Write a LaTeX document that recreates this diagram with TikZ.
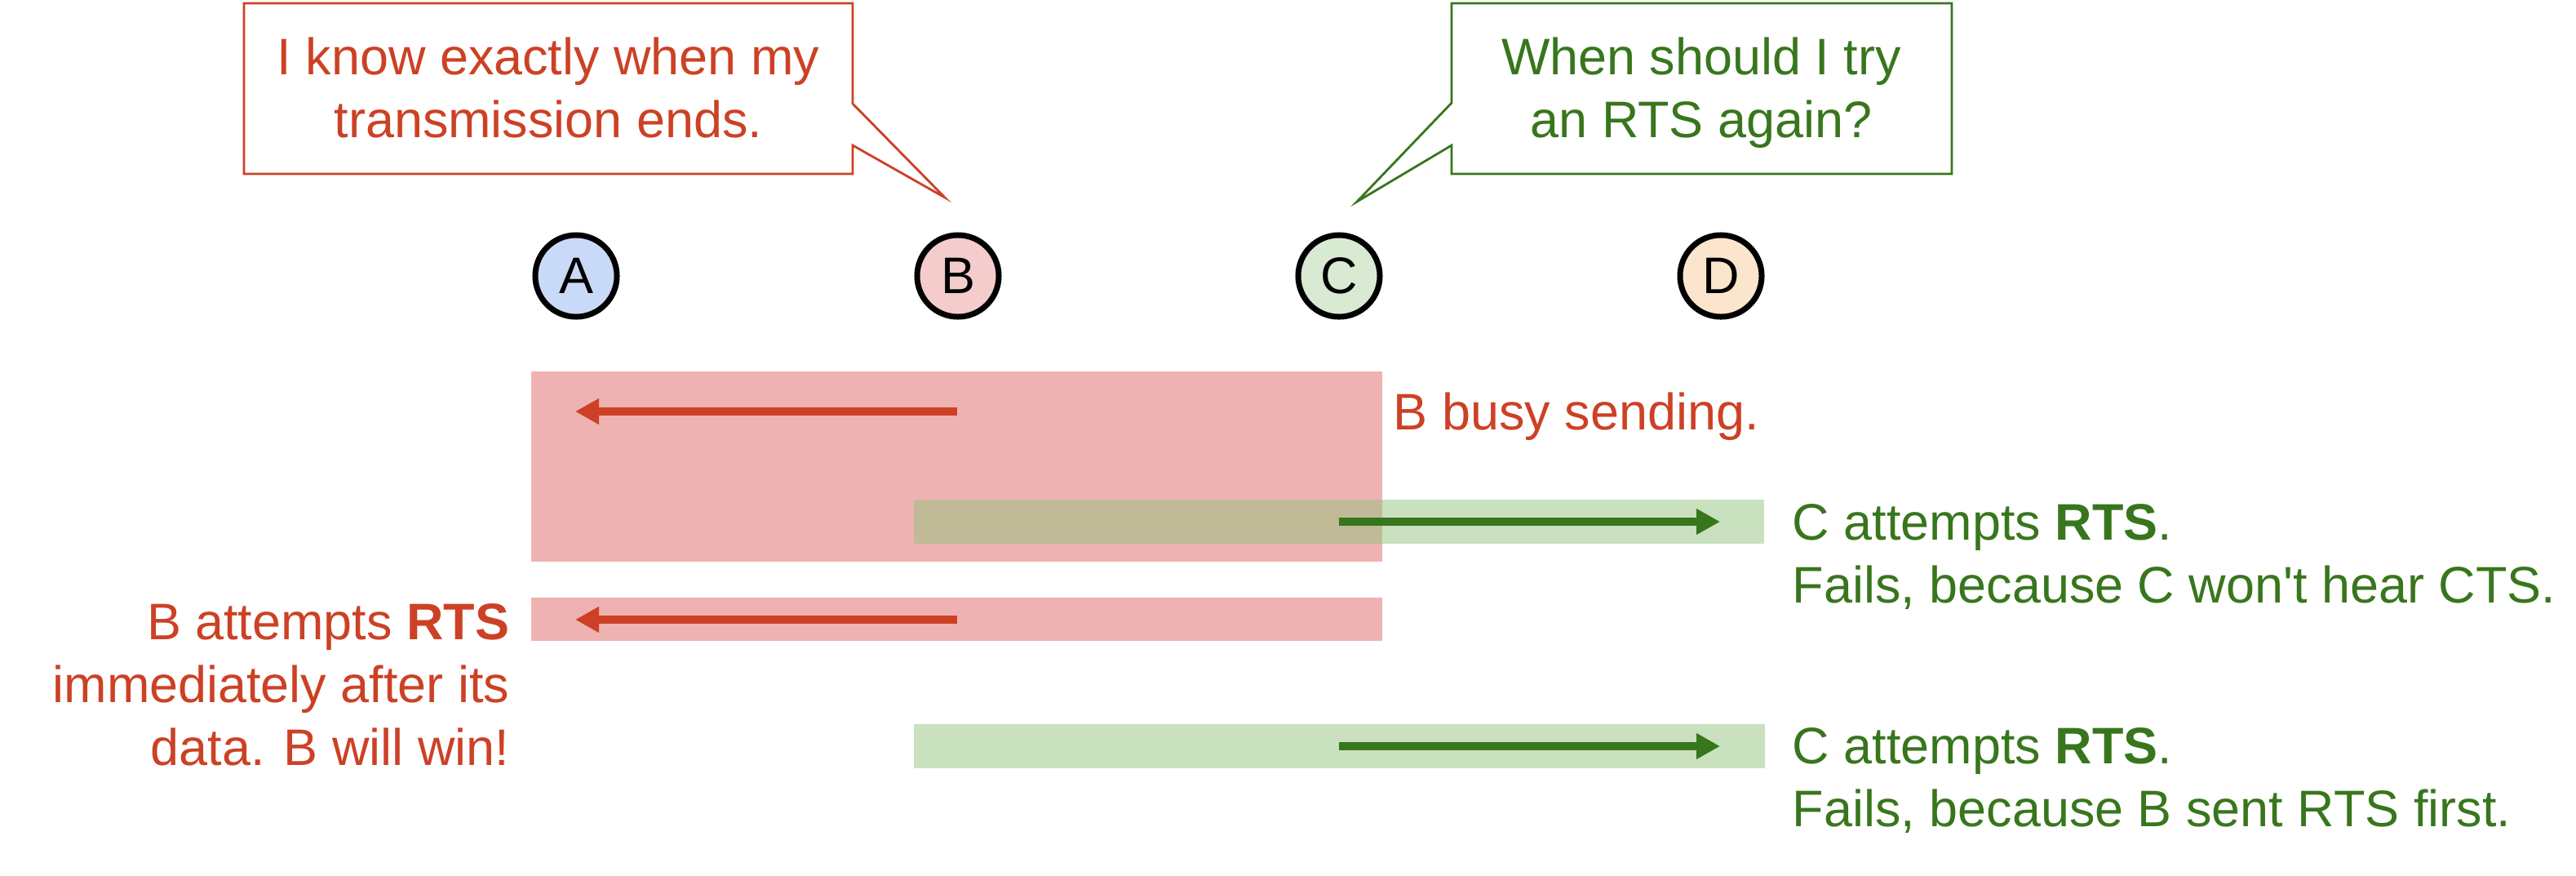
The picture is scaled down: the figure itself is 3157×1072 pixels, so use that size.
\documentclass[tikz,border=0pt]{standalone}
\usepackage{fontspec}
\setmainfont{Liberation Sans}[Ligatures=TeXOff]
\usetikzlibrary{arrows.meta}
\definecolor{tred}{HTML}{CC4125}
\definecolor{tgreen}{HTML}{38761D}
\definecolor{fred}{HTML}{E06666}
\definecolor{fgreen}{HTML}{93C47D}
\definecolor{cA}{HTML}{C9DAF8}
\definecolor{cB}{HTML}{F4CCCC}
\definecolor{cC}{HTML}{D9EAD3}
\definecolor{cD}{HTML}{FCE5CD}
\tikzset{
  txt/.style={inner sep=0pt, font=\fontsize{17.9}{21.9}\selectfont},
  station/.style={circle, draw=black, line width=0.07cm, minimum size=1cm, inner sep=0pt, font=\fontsize{17.9}{21.9}\selectfont},
  redbar/.style={fill=fred, fill opacity=0.5, draw=none},
  greenbar/.style={fill=fgreen, fill opacity=0.5, draw=none},
  redarrow/.style={draw=tred, line width=0.1cm, -{Triangle[length=0.29cm,width=0.30cm]}},
  greenarrow/.style={draw=tgreen, line width=0.1cm, -{Triangle[length=0.29cm,width=0.30cm]}},
  callout/.style={line width=0.028cm, line join=miter},
}
\begin{document}
\begin{tikzpicture}[x=0.01cm,y=-0.01cm]
\useasboundingbox (0,0) rectangle (3157,1072);

% callouts
\draw[callout, draw=tred] (299,4) -- (1045,4) -- (1045,127) -- (1158,242) -- (1045,178) -- (1045,213) -- (299,213) -- cycle;
\node[txt, text=tred, anchor=north, align=center] (say1) at (672,37.1) {\strut I know exactly when my\\transmission ends.};
\draw[callout, draw=tgreen] (1779,4) -- (2392,4) -- (2392,213) -- (1779,213) -- (1779,178) -- (1663,247) -- (1779,126) -- cycle;
\node[txt, text=tgreen, anchor=north, align=center] (say2) at (2085,37.1) {\strut When should I try\\an RTS again?};

% stations
\node[station, fill=cA] (A) at (706,338) {A};
\node[station, fill=cB] (B) at (1174,338) {B};
\node[station, fill=cC] (C) at (1641,338) {C};
\node[station, fill=cD] (D) at (2109,338) {D};

% bars
\fill[redbar] (651,455) rectangle (1694,688);
\fill[greenbar] (1120,612) rectangle (2162,666);
\fill[redbar] (651,732) rectangle (1694,785);
\fill[greenbar] (1120,887) rectangle (2163,941);

% arrows
\coordinate (r1s) at (1173,504);
\coordinate (r1e) at (705,504);
\coordinate (g1s) at (1641,639);
\coordinate (g1e) at (2108,639);
\coordinate (r2s) at (1173,759);
\coordinate (r2e) at (705,759);
\coordinate (g2s) at (1641,914);
\coordinate (g2e) at (2108,914);
\draw[redarrow] (r1s) -- (r1e);
\draw[greenarrow] (g1s) -- (g1e);
\draw[redarrow] (r2s) -- (r2e);
\draw[greenarrow] (g2s) -- (g2e);

% labels
\node[txt, text=tred, anchor=base west] (busy) at (1707,526) {B busy sending.};
\node[txt, text=tred, anchor=north east, align=right] (bwin) at (625,729.1) {\strut B attempts \textbf{RTS}\\immediately after its\\data. B will win!};
\node[txt, text=tgreen, anchor=north west, align=left] (c1) at (2196,607.1) {\strut C attempts \textbf{RTS}.\\Fails, because C won't hear CTS.};
\node[txt, text=tgreen, anchor=north west, align=left] (c2) at (2196,881.1) {\strut C attempts \textbf{RTS}.\\Fails, because B sent RTS first.};
\end{tikzpicture}
\end{document}
